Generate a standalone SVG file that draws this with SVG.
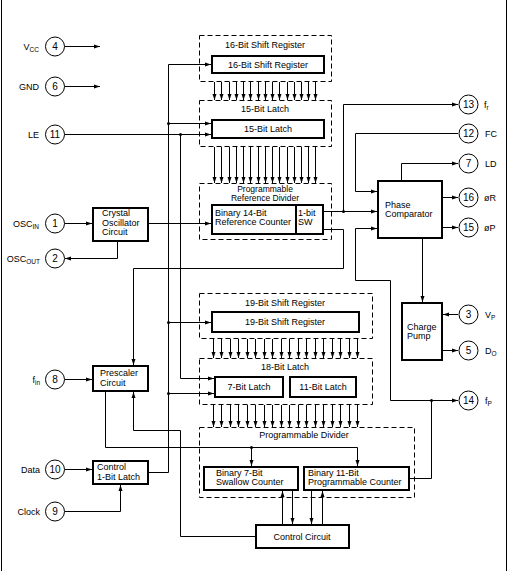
<svg xmlns="http://www.w3.org/2000/svg" width="509" height="571" viewBox="0 0 509 571">
<style>
text{font-family:"Liberation Sans",Arial,sans-serif;font-size:9px;fill:#000}
.n{font-size:10px;text-anchor:middle}
.c{text-anchor:middle}
.e{text-anchor:end}
.s{font-size:6.5px}
.t2{font-size:8.5px}
.ln{fill:none;stroke:#000;stroke-width:1}
.ar{fill:none;stroke:#000;stroke-width:1;marker-end:url(#ah)}
.box{fill:#fff;stroke:#000;stroke-width:2}
.dash{fill:none;stroke:#000;stroke-width:1;stroke-dasharray:5,3}
.pin{fill:#fff;stroke:#000;stroke-width:1}
.dot{fill:#000}
</style>
<defs>
<marker id="ah" markerWidth="6" markerHeight="5" refX="6" refY="2.5" orient="auto" markerUnits="userSpaceOnUse"><path d="M0,0.5 L6,2.5 L0,4.5 z" fill="#000"/></marker>
</defs>
<rect width="509" height="571" fill="#fff"/>
<g id="frame" class="ln"><path d="M1.5,0 V571 M506.5,0 V571"/></g>

<g id="connectors">
<path class="ar" d="M64.5,46.5 H100"/>
<path class="ar" d="M64.5,86.5 H100"/>
<path class="ar" d="M64.5,134.5 H211"/>
<path class="ar" d="M180.5,134.5 V378.5 H214"/>
<path class="ar" d="M148,472.5 H168.5 V64.5 H211"/>
<path class="ar" d="M168.5,123.5 H211"/>
<path class="ar" d="M168.5,322.5 H211"/>
<path class="ar" d="M168.5,393.5 H214"/>
<path class="ar" d="M64.5,223.5 H92"/>
<path class="ar" d="M149,223.5 H211"/>
<path class="ar" d="M117.5,242 V258.5 H65"/>
<path class="ar" d="M324,211.5 H377"/>
<path class="ar" d="M343.5,211.5 V104.5 H458"/>
<path class="ar" d="M324,229.5 H343.5 V268.5 H133.5 V365"/>
<path class="ar" d="M458,133.5 H355.5 V191.5 H377"/>
<path class="ar" d="M401.5,180 V163.5 H458"/>
<path class="ar" d="M443,197.5 H458"/>
<path class="ar" d="M443,227.5 H458"/>
<path class="ar" d="M422.5,239 V302"/>
<path class="ar" d="M458,314.5 H443"/>
<path class="ar" d="M443,350.5 H458"/>
<path class="ar" d="M410,478.5 H431.5 V400.5 H458"/>
<path class="ar" d="M431.5,400.5 H390.5 V280.5 H355.5 V228.5 H377"/>
<path class="ar" d="M64.5,379.5 H92"/>
<path class="ar" d="M105.5,392 V447.5 H357.5 V466"/>
<path class="ar" d="M251.5,447.5 V466"/>
<path class="ar" d="M255,536.5 H180.5 V430.5 H133.5 V392"/>
<path class="ar" d="M64.5,469.5 H92"/>
<path class="ar" d="M64.5,511.5 H120.5 V485"/>
<path class="ar" d="M282.5,524 V491"/>
<path class="ar" d="M292.5,491 V524"/>
<path class="ar" d="M311.5,491 V524"/>
<path class="ar" d="M322.5,524 V491"/>
<g id="bus1">
<path class="ar" d="M214.5,82 V100"/><path class="ar" d="M221.5,82 V100"/><path class="ar" d="M229.5,82 V100"/><path class="ar" d="M236.5,82 V100"/><path class="ar" d="M243.5,82 V100"/><path class="ar" d="M250.5,82 V100"/><path class="ar" d="M258.5,82 V100"/><path class="ar" d="M265.5,82 V100"/><path class="ar" d="M272.5,82 V100"/><path class="ar" d="M279.5,82 V100"/><path class="ar" d="M287.5,82 V100"/><path class="ar" d="M294.5,82 V100"/><path class="ar" d="M301.5,82 V100"/><path class="ar" d="M308.5,82 V100"/><path class="ar" d="M315.5,82 V100"/>
</g>
<g id="bus2">
<path class="ar" d="M214.5,147 V183"/><path class="ar" d="M221.5,147 V183"/><path class="ar" d="M229.5,147 V183"/><path class="ar" d="M236.5,147 V183"/><path class="ar" d="M243.5,147 V183"/><path class="ar" d="M250.5,147 V183"/><path class="ar" d="M258.5,147 V183"/><path class="ar" d="M265.5,147 V183"/><path class="ar" d="M272.5,147 V183"/><path class="ar" d="M279.5,147 V183"/><path class="ar" d="M287.5,147 V183"/><path class="ar" d="M294.5,147 V183"/><path class="ar" d="M301.5,147 V183"/><path class="ar" d="M308.5,147 V183"/><path class="ar" d="M315.5,147 V183"/>
</g>
<g id="bus3">
<path class="ar" d="M213.5,339 V358"/><path class="ar" d="M221.5,339 V358"/><path class="ar" d="M230.5,339 V358"/><path class="ar" d="M238.5,339 V358"/><path class="ar" d="M247.5,339 V358"/><path class="ar" d="M255.5,339 V358"/><path class="ar" d="M264.5,339 V358"/><path class="ar" d="M272.5,339 V358"/><path class="ar" d="M281.5,339 V358"/><path class="ar" d="M289.5,339 V358"/><path class="ar" d="M298.5,339 V358"/><path class="ar" d="M306.5,339 V358"/><path class="ar" d="M315.5,339 V358"/><path class="ar" d="M323.5,339 V358"/><path class="ar" d="M332.5,339 V358"/><path class="ar" d="M340.5,339 V358"/><path class="ar" d="M349.5,339 V358"/><path class="ar" d="M357.5,339 V358"/>
</g>
<g id="bus4">
<path class="ar" d="M213.5,405 V427"/><path class="ar" d="M221.5,405 V427"/><path class="ar" d="M230.5,405 V427"/><path class="ar" d="M238.5,405 V427"/><path class="ar" d="M247.5,405 V427"/><path class="ar" d="M255.5,405 V427"/><path class="ar" d="M264.5,405 V427"/><path class="ar" d="M272.5,405 V427"/><path class="ar" d="M281.5,405 V427"/><path class="ar" d="M289.5,405 V427"/><path class="ar" d="M298.5,405 V427"/><path class="ar" d="M306.5,405 V427"/><path class="ar" d="M315.5,405 V427"/><path class="ar" d="M323.5,405 V427"/><path class="ar" d="M332.5,405 V427"/><path class="ar" d="M340.5,405 V427"/><path class="ar" d="M349.5,405 V427"/><path class="ar" d="M357.5,405 V427"/>
</g>
<circle class="dot" cx="180.5" cy="134.5" r="1.5"/>
<circle class="dot" cx="168.5" cy="123.5" r="1.5"/>
<circle class="dot" cx="168.5" cy="322.5" r="1.5"/>
<circle class="dot" cx="168.5" cy="393.5" r="1.5"/>
<circle class="dot" cx="343.5" cy="211.5" r="1.5"/>
<circle class="dot" cx="431.5" cy="400.5" r="1.5"/>
<circle class="dot" cx="251.5" cy="447.5" r="1.5"/>
</g>

<g id="sr16">
<rect class="dash" x="199.5" y="35.5" width="132" height="46"/>
<text class="c" x="265" y="48">16-Bit Shift Register</text>
<rect class="box" x="212" y="56" width="112" height="17"/>
<text class="c" x="268" y="67.5">16-Bit Shift Register</text>
</g>
<g id="lat15">
<rect class="dash" x="199.5" y="100.5" width="132" height="46"/>
<text class="c" x="265" y="112">15-Bit Latch</text>
<rect class="box" x="212" y="120" width="112" height="18"/>
<text class="c" x="268" y="132">15-Bit Latch</text>
</g>
<g id="refdiv">
<rect class="dash" x="199.5" y="183.5" width="132" height="56"/>
<text class="c t2" x="265" y="191.5">Programmable</text>
<text class="c t2" x="265" y="200.5">Reference Divider</text>
<rect class="box" x="212" y="205" width="84" height="29"/>
<text x="215" y="216">Binary 14-Bit</text>
<text x="215" y="225">Reference Counter</text>
<rect class="box" x="296" y="205" width="27" height="29"/>
<text x="298" y="216">1-bit</text>
<text x="298" y="225">SW</text>
</g>
<g id="crystal">
<rect class="box" x="93" y="208" width="55" height="33"/>
<text x="102" y="216">Crystal</text>
<text x="102" y="226">Oscillator</text>
<text x="102" y="235">Circuit</text>
</g>
<g id="phasecomp">
<rect class="box" x="378" y="181" width="64" height="57"/>
<text x="385" y="208">Phase</text>
<text x="385" y="217">Comparator</text>
</g>
<g id="chargepump">
<rect class="box" x="402" y="303" width="40" height="57"/>
<text x="407" y="330">Charge</text>
<text x="407" y="339">Pump</text>
</g>
<g id="sr19">
<rect class="dash" x="199.5" y="293.5" width="173" height="45"/>
<text class="c" x="285" y="306">19-Bit Shift Register</text>
<rect class="box" x="212" y="312" width="147" height="20"/>
<text class="c" x="285" y="325">19-Bit Shift Register</text>
</g>
<g id="lat18">
<rect class="dash" x="199.5" y="358.5" width="173" height="46"/>
<text class="c" x="285" y="370">18-Bit Latch</text>
<rect class="box" x="215" y="377" width="68" height="20"/>
<text class="c" x="249" y="390">7-Bit Latch</text>
<rect class="box" x="290" y="377" width="66" height="20"/>
<text class="c" x="323" y="390">11-Bit Latch</text>
</g>
<g id="progdiv">
<rect class="dash" x="199.5" y="427.5" width="215" height="70"/>
<text class="c" x="304" y="438">Programmable Divider</text>
<rect class="box" x="204" y="467" width="94" height="23"/>
<text x="216" y="476">Binary 7-Bit</text>
<text x="216" y="485">Swallow Counter</text>
<rect class="box" x="304" y="467" width="105" height="23"/>
<text x="308" y="476">Binary 11-Bit</text>
<text x="308" y="485">Programmable Counter</text>
</g>
<g id="control">
<rect class="box" x="256" y="525" width="93" height="23"/>
<text class="c" x="302" y="540">Control Circuit</text>
</g>
<g id="prescaler">
<rect class="box" x="93" y="366" width="55" height="25"/>
<text x="100" y="376">Prescaler</text>
<text x="100" y="386">Circuit</text>
</g>
<g id="ctrllatch">
<rect class="box" x="93" y="461" width="55" height="23"/>
<text x="97" y="470">Control</text>
<text x="97" y="480">1-Bit Latch</text>
</g>

<g id="pin4"><circle class="pin" cx="55" cy="46.5" r="9.5"/><text class="n" x="55" y="50">4</text><text class="e" x="39" y="49.5">V<tspan class="s" dy="2">CC</tspan></text></g>
<g id="pin6"><circle class="pin" cx="55" cy="86.5" r="9.5"/><text class="n" x="55" y="90">6</text><text class="e" x="39" y="89.5">GND</text></g>
<g id="pin11"><circle class="pin" cx="55" cy="134.5" r="9.5"/><text class="n" x="55" y="138">11</text><text class="e" x="39" y="137.5">LE</text></g>
<g id="pin1"><circle class="pin" cx="55" cy="223.5" r="9.5"/><text class="n" x="55" y="227">1</text><text class="e" x="39" y="226.5">OSC<tspan class="s" dy="2">IN</tspan></text></g>
<g id="pin2"><circle class="pin" cx="55" cy="258.5" r="9.5"/><text class="n" x="55" y="262">2</text><text class="e" x="40" y="261.5">OSC<tspan class="s" dy="2">OUT</tspan></text></g>
<g id="pin8"><circle class="pin" cx="55" cy="379.5" r="9.5"/><text class="n" x="55" y="383">8</text><text class="e" x="40" y="382.5">f<tspan class="s" dy="2">in</tspan></text></g>
<g id="pin10"><circle class="pin" cx="55" cy="469.5" r="9.5"/><text class="n" x="55" y="473">10</text><text class="e" x="40" y="472.5">Data</text></g>
<g id="pin9"><circle class="pin" cx="55" cy="511.5" r="9.5"/><text class="n" x="55" y="515">9</text><text class="e" x="40" y="514.5">Clock</text></g>

<g id="pin13"><circle class="pin" cx="468.5" cy="104.5" r="9.5"/><text class="n" x="468.5" y="108">13</text><text x="484" y="107.5">f<tspan class="s" dy="2">r</tspan></text></g>
<g id="pin12"><circle class="pin" cx="468.5" cy="133.5" r="9.5"/><text class="n" x="468.5" y="137">12</text><text x="485" y="136.5">FC</text></g>
<g id="pin7"><circle class="pin" cx="468.5" cy="163.5" r="9.5"/><text class="n" x="468.5" y="167">7</text><text x="485" y="166.5">LD</text></g>
<g id="pin16"><circle class="pin" cx="468.5" cy="197.5" r="9.5"/><text class="n" x="468.5" y="201">16</text><text x="484" y="200.5">øR</text></g>
<g id="pin15"><circle class="pin" cx="468.5" cy="227.5" r="9.5"/><text class="n" x="468.5" y="231">15</text><text x="484" y="230.5">øP</text></g>
<g id="pin3"><circle class="pin" cx="468.5" cy="314.5" r="9.5"/><text class="n" x="468.5" y="318">3</text><text x="485" y="317.5">V<tspan class="s" dy="2">P</tspan></text></g>
<g id="pin5"><circle class="pin" cx="468.5" cy="350.5" r="9.5"/><text class="n" x="468.5" y="354">5</text><text x="485" y="353.5">D<tspan class="s" dy="2">O</tspan></text></g>
<g id="pin14"><circle class="pin" cx="468.5" cy="400.5" r="9.5"/><text class="n" x="468.5" y="404">14</text><text x="485" y="403.5">f<tspan class="s" dy="2">P</tspan></text></g>
</svg>
